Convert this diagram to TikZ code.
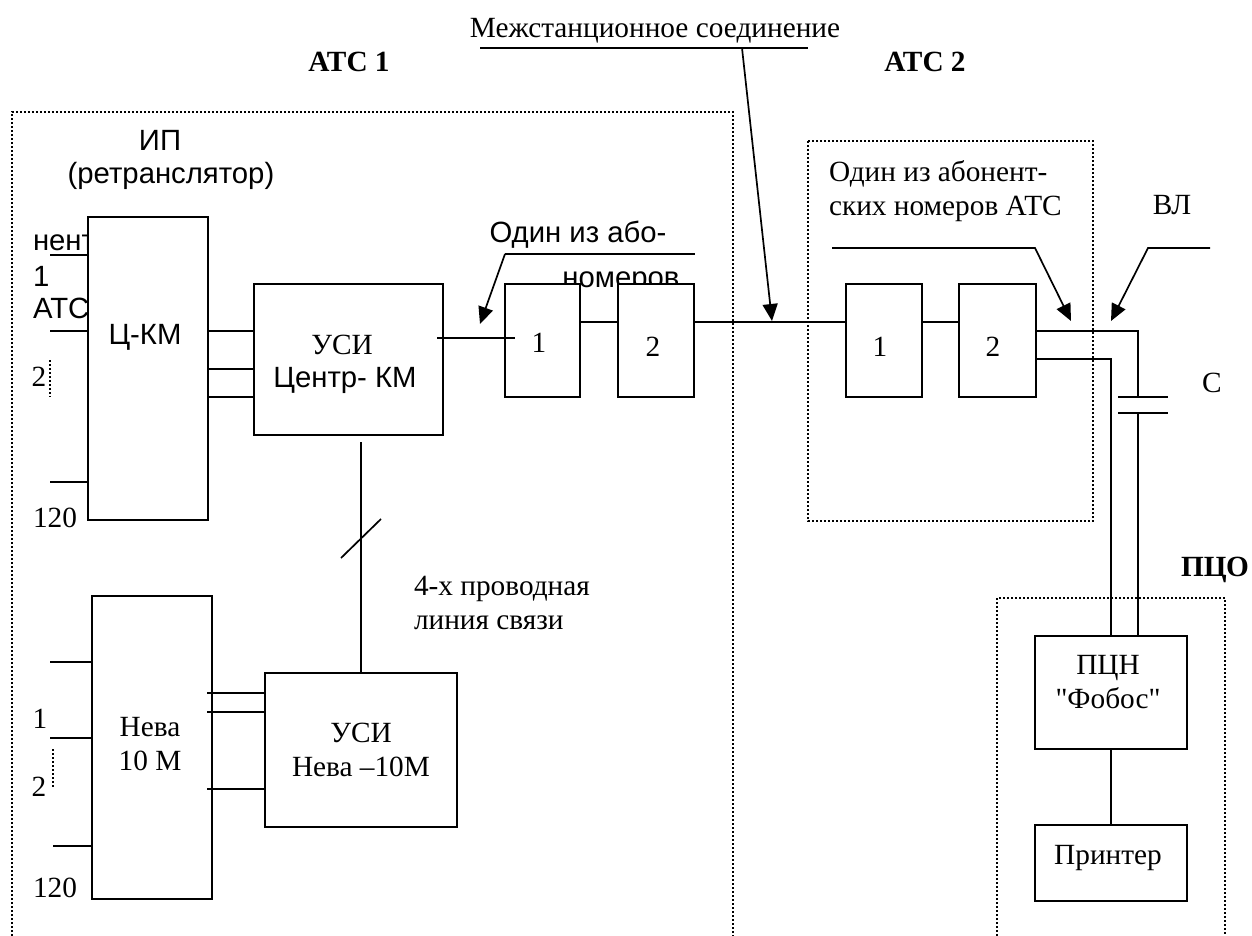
\documentclass[tikz,border=0pt]{standalone}
\usepackage{fontspec}
\setmainfont{Liberation Serif}
\newfontfamily\arialf{Liberation Sans}
\newfontfamily\plainserif{Liberation Serif}
\usetikzlibrary{arrows.meta}
\tikzset{
  x=1pt,y=-1pt,
  every node/.style={inner sep=0pt,outer sep=0pt,font=\fontsize{29.3}{33.5}\selectfont,text=black},
  sans/.style={font=\arialf\fontsize{29.3}{33.5}\selectfont},
  title/.style={font=\bfseries\fontsize{29.3}{33.5}\selectfont},
  blockbox/.style={draw=black,fill=white,line width=2pt,sharp corners},
  wire/.style={draw=black,line width=1.7pt},
  region/.style={draw=black,line width=2.2pt,dash pattern=on 2pt off 2pt},
  dots/.style={draw=black,line width=1.2pt,dash pattern=on 2pt off 2pt},
  leader/.style={draw=black,line width=1.7pt,-{Triangle[length=17pt,width=15pt]}},
}
\begin{document}
\begin{tikzpicture}
\useasboundingbox[fill=white] (0,0) rectangle (1252,936);
% regions
\draw[region] (12,936) -- (12,112) -- (733,112) -- (733,936);
\draw[region] (808,141) rectangle (1093,521);
\draw[region] (997,936) -- (997,598) -- (1225,598) -- (1225,936);
% texts partly hidden by blocks
\node[sans,anchor=west] (tnent) at (33,243) {нент};
\node[sans,anchor=west] (tone) at (33,276) {1};
\node[sans,anchor=west] (tats) at (33,308) {АТС};
\node[sans] (tnom) at (621,283) {номеров};
% blocks
\node[blockbox,minimum width=120,minimum height=303] (ckm) at (148,368.5) {};
\node[blockbox,minimum width=189,minimum height=151] (usic) at (348.5,359.5) {};
\node[blockbox,minimum width=75,minimum height=113] (a1) at (542.5,340.5) {};
\node[blockbox,minimum width=76,minimum height=113] (a2) at (656,340.5) {};
\node[blockbox,minimum width=76,minimum height=113] (b1) at (884,340.5) {};
\node[blockbox,minimum width=77,minimum height=113] (b2) at (997.5,340.5) {};
\node[blockbox,minimum width=120,minimum height=303] (neva) at (152,747.5) {};
\node[blockbox,minimum width=192,minimum height=154] (usin) at (361,750) {};
\node[blockbox,minimum width=152,minimum height=113] (pcn) at (1111,692.5) {};
\node[blockbox,minimum width=152,minimum height=76] (prn) at (1111,863) {};
% labels
\node[sans] (lckm) at (145,337) {Ц-КМ};
\node (lusic0) at (342,345) {УСИ};
\node[sans] (lusic) at (345,380) {Центр- КМ};
\node (l1) at (539,343) {1};
\node (l2) at (653,347) {2};
\node (l3) at (880,347) {1};
\node (l4) at (993,347) {2};
\node[align=center] (lneva) at (150,744) {Нева\\10 М};
\node[align=center] (lusin) at (361,750) {УСИ\\Нева –10М};
\node[align=center] (lpcn) at (1108,682) {ПЦН\\{\plainserif "Фобос"}};
\node (lprn) at (1108,858) {Принтер};
\node (tm) at (655,31) {Межстанционное соединение};
\node[title] (t1) at (349,62) {АТС 1};
\node[title] (t2) at (925,62) {АТС 2};
\node[title] (t3) at (1215,570) {ПЦО};
\node[sans] (tip) at (160,140) {ИП};
\node[sans] (tret) at (171,176) {(ретранслятор)};
\node[sans] (tone2) at (578,235) {Один из або-};
\node[align=left,anchor=west] (tab) at (829,191) {Один из абонент-\\ских номеров АТС};
\node (tvl) at (1172,205) {ВЛ};
\node (tc) at (1212,383) {С};
\node[align=left,anchor=west] (t4x) at (414,603) {4-х проводная\\линия связи};
\node (n2a) at (39,377) {2};
\node (n120a) at (55,518) {120};
\node (n1b) at (40,719) {1};
\node (n2b) at (39,787) {2};
\node (n120b) at (55,888) {120};
% input stubs
\foreach \yy in {255,331,482} \draw[wire] (50,\yy) -- (ckm.west |- 0,\yy);
\draw[dots] (50,360) -- (50,397);
\foreach \yy in {662,738} \draw[wire] (50,\yy) -- (neva.west |- 0,\yy);
\draw[wire] (53,846) -- (neva.west |- 0,846);
\draw[dots] (53,749) -- (53,787);
% connections
\foreach \yy in {331,369,397} \draw[wire] (ckm.east |- 0,\yy) -- (usic.west |- 0,\yy);
\foreach \yy in {693,712,789} \draw[wire] (207,\yy) -- (usin.west |- 0,\yy);
\draw[wire] (437,338) -- (515,338);
\draw[wire] (a1.east |- 0,322) -- (a2.west |- 0,322);
\draw[wire] (a2.east |- 0,322) -- (b1.west |- 0,322);
\draw[wire] (b1.east |- 0,322) -- (b2.west |- 0,322);
\coordinate (usitop) at (361,442);
\draw[wire] (usitop) -- (usin.north -| usitop);
\draw[wire] (341,558) -- (381,519);
\coordinate (captop) at (1138,397);
\coordinate (capbot) at (1138,413);
\draw[wire] (b2.east |- 0,331) -- (1138,331) -- (captop);
\draw[wire] (capbot) -- (pcn.north -| capbot);
\draw[wire] (b2.east |- 0,359) -- (1111,359) -- (pcn.north);
\draw[wire] (1118,397) -- (1168,397);
\draw[wire] (1118,413) -- (1168,413);
\draw[wire] (pcn) -- (prn);
% leaders
\draw[wire] (480,48) -- (808,48);
\draw[leader] (742,48) -- (772,321);
\draw[wire] (505,254) -- (695,254);
\draw[leader] (505,254) -- (480,324);
\draw[leader] (832,248) -- (1035,248) -- (1071,321);
\draw[leader] (1210,248) -- (1148,248) -- (1111,321);
\end{tikzpicture}
\end{document}
